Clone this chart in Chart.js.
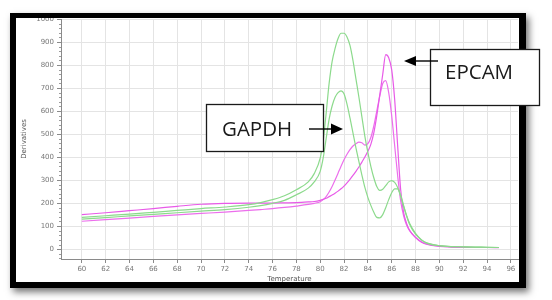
<!DOCTYPE html>
<html><head><meta charset="utf-8">
<script src="https://cdn.jsdelivr.net/npm/chart.js@4.4.0/dist/chart.umd.min.js"></script>
<style>html,body{margin:0;padding:0;background:#fff;}canvas{display:block;}</style>
</head><body>
<canvas id="c" width="552" height="300"></canvas>
<script>
// Temperature grid (°C) shared by all curves
const temperature = [60,62,64,66,68,70,72,74,75,76,77,78,79,79.5,80,80.25,80.5,80.75,81,81.25,81.5,81.75,82,82.25,82.5,82.75,83,83.25,83.5,83.75,84,84.25,84.5,84.75,85,85.25,85.5,85.75,86,86.25,86.5,86.75,87,87.25,87.5,88,88.5,89,90,91,92,93,94,95];
// GAPDH (green) melt curves
const gapdhA = [138,145,152,160,168,176,183,193,202,215,232,258,292,328,395,470,590,720,815,872,915,938,938,922,885,820,740,660,575,490,420,360,310,272,255,260,276,292,298,290,268,230,185,145,112,68,40,26,15,11,10,9,8,7];
const gapdhB = [130,137,144,151,158,165,172,182,189,199,212,236,265,292,338,395,480,565,622,660,680,688,675,630,570,505,440,380,322,268,225,190,160,138,136,150,180,215,245,262,262,235,190,145,108,65,40,25,15,11,10,9,8,7];
// EPCAM (magenta) melt curves
const epcamA = [150,158,167,176,186,195,199,200,200,200,201,202,205,207,212,216,221,228,235,243,252,262,274,288,303,320,338,357,378,400,425,455,505,580,670,760,845,832,780,650,450,260,160,112,82,50,30,20,12,9,8,7,7,6];
const epcamB = [121,128,135,142,149,155,161,168,172,176,181,187,194,199,206,215,228,248,272,300,330,360,388,412,432,448,458,465,462,452,458,485,535,600,665,720,732,680,580,450,320,210,145,105,80,52,32,21,13,10,8,7,7,7];
// Axis ticks
const xTicks = [60,62,64,66,68,70,72,74,76,78,80,82,84,86,88,90,92,94,96];
const yTicks = [0,100,200,300,400,500,600,700,800,900,1000];
const boxLabels = ['GAPDH','EPCAM'];

function pts(vals){ return temperature.map((t,i)=>({x:t,y:vals[i]})); }

const framePlugin = {
  id:'frame',
  beforeDraw(chart){
    const ctx = chart.ctx;
    ctx.save(); ctx.fillStyle='#fff'; ctx.fillRect(0,0,chart.width,chart.height); ctx.restore();
  },
  afterDraw(chart){
    const ctx = chart.ctx;
    const y = chart.scales.y, ca = chart.chartArea;
    ctx.save();
    ctx.strokeStyle='#9a9a9a'; ctx.lineWidth=1;
    for(let v=-40; v<=1000; v+=20){
      if(v%100===0) continue;
      const py = Math.round(y.getPixelForValue(v))+0.5;
      ctx.beginPath(); ctx.moveTo(ca.left-2,py); ctx.lineTo(ca.left,py); ctx.stroke();
    }
    ctx.restore();
    ctx.save();
    ctx.beginPath(); ctx.rect(0,0,552,300); ctx.rect(10,13,516,275); ctx.clip('evenodd');
    ctx.shadowColor='rgba(0,0,0,0.55)'; ctx.shadowBlur=7; ctx.shadowOffsetX=3; ctx.shadowOffsetY=4;
    ctx.fillStyle='#000'; ctx.fillRect(10,13,516,275);
    ctx.restore();
    ctx.save(); ctx.fillStyle='#000';
    ctx.fillRect(10,13,516,5);
    ctx.fillRect(10,13,6,275);
    ctx.fillRect(519,13,7,275);
    ctx.fillRect(10,282,516,6);
    ctx.restore();
    ctx.save();
    ctx.fillStyle='#fff'; ctx.strokeStyle='#1a1a1a'; ctx.lineWidth=1.3;
    ctx.fillRect(206,104,118,48); ctx.strokeRect(206.5,104.5,117,47);
    ctx.fillRect(430,49,110,57); ctx.strokeRect(430.5,49.5,109,56);
    ctx.fillStyle='#1a1a1a';
    ctx.font='20.5px "Open Sans", sans-serif';
    ctx.textBaseline='alphabetic'; ctx.textAlign='left';
    ctx.fillText(boxLabels[0],222,135.5);
    ctx.fillText(boxLabels[1],445,79);
    ctx.strokeStyle='#000'; ctx.fillStyle='#000'; ctx.lineWidth=1.4;
    ctx.beginPath(); ctx.moveTo(309,129); ctx.lineTo(333,129); ctx.stroke();
    ctx.beginPath(); ctx.moveTo(343,129); ctx.lineTo(331,123.5); ctx.lineTo(331,134.5); ctx.closePath(); ctx.fill();
    ctx.beginPath(); ctx.moveTo(414,61); ctx.lineTo(438,61); ctx.stroke();
    ctx.beginPath(); ctx.moveTo(404,61); ctx.lineTo(416,56); ctx.lineTo(416,66); ctx.closePath(); ctx.fill();
    ctx.restore();
  }
};

const green = 'rgb(140,218,140)';
const magenta = 'rgb(232,90,232)';
new Chart(document.getElementById('c'), {
  type:'line',
  data:{datasets:[
    {data:pts(gapdhA), borderColor:green},
    {data:pts(gapdhB), borderColor:green},
    {data:pts(epcamA), borderColor:magenta},
    {data:pts(epcamB), borderColor:'rgb(236,110,236)'}
  ]},
  options:{
    responsive:false, animation:false, devicePixelRatio:1,
    layout:{padding:{left:0,right:34,top:19,bottom:17}},
    plugins:{legend:{display:false}, tooltip:{enabled:false}},
    elements:{point:{radius:0}, line:{borderWidth:1.2, cubicInterpolationMode:'monotone', fill:false}},
    scales:{
      x:{type:'linear', min:58.25, max:96.6,
        afterBuildTicks:s=>{s.ticks = xTicks.map(v=>({value:v}));},
        afterFit:s=>{s.height=24;},
        grid:{color:'#e4e4e4', tickColor:'#8a8a8a', tickLength:4},
        border:{color:'#8a8a8a'},
        ticks:{autoSkip:false, maxRotation:0, padding:2, color:'#777', font:{family:'DejaVu Sans', size:7}, callback:v=>String(v)},
        title:{display:true, text:'Temperature', color:'#555', font:{family:'DejaVu Sans', size:7}, padding:{top:0,bottom:0}}
      },
      y:{type:'linear', min:-43, max:1000,
        afterBuildTicks:s=>{s.ticks = yTicks.map(v=>({value:v}));},
        afterFit:s=>{s.width=61;},
        grid:{color:'#e4e4e4', tickColor:'#8a8a8a', tickLength:4},
        border:{color:'#8a8a8a'},
        ticks:{padding:3, color:'#777', font:{family:'DejaVu Sans', size:7}, callback:v=>String(v)},
        title:{display:true, text:'Derivatives', color:'#555', font:{family:'DejaVu Sans', size:7}, padding:{top:20,bottom:0}}
      }
    }
  },
  plugins:[framePlugin]
});
</script>
</body></html>
